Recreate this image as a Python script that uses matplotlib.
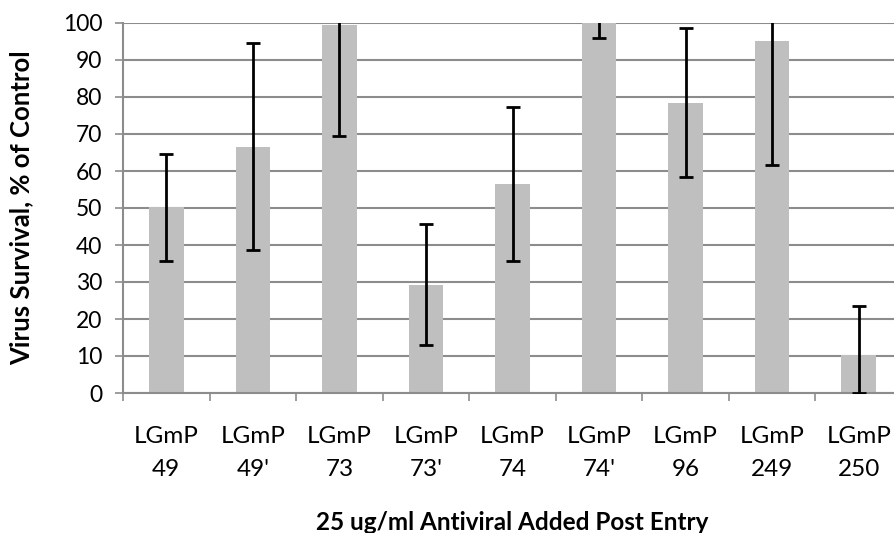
"""
Virus survival after antiviral added post entry (bar chart with error bars).
"""

import matplotlib
matplotlib.use('Agg')
import matplotlib.pyplot as plt
import numpy as np

categories = ["LGmP\n49", "LGmP\n49'", "LGmP\n73", "LGmP\n73'", "LGmP\n74",
              "LGmP\n74'", "LGmP\n96", "LGmP\n249", "LGmP\n250"]
survival = [50.2, 66.6, 99.5, 29.2, 56.5, 100.0, 78.4, 95.0, 10.2]
err_low = [14.5, 28.0, 30.1, 16.3, 20.8, 4.1, 19.9, 33.4, 10.2]
err_high = [14.4, 28.1, 30.1, 16.5, 20.9, 4.1, 20.2, 33.4, 13.4]

yticks = list(range(0, 101, 10))

plt.rcParams['font.family'] = ['Lato', 'DejaVu Sans']

fig = plt.figure(figsize=(8.94, 5.33), dpi=100)
ax = fig.add_axes([123 / 894, 140 / 533, 779 / 894, 370 / 533])

x = np.arange(len(categories))
ax.bar(x, survival, width=0.4, color='#bfbfbf', zorder=2)
ax.errorbar(x, survival, yerr=[err_low, err_high], fmt='none', ecolor='black',
            elinewidth=2, capsize=5, capthick=2, zorder=3)

ax.set_xlim(-0.5, len(categories) - 0.5)
ax.set_ylim(0, 100)
ax.set_yticks(yticks)
ax.yaxis.grid(True, color='#8c8c8c', linewidth=1.5, zorder=0)
ax.set_axisbelow(True)

# ticks on category boundaries, labels at centres
ax.set_xticks(np.arange(len(categories) + 1) - 0.5)
ax.set_xticklabels([])
ax.set_xticks(x, minor=True)
ax.set_xticklabels(categories, minor=True, fontsize=17.5, linespacing=1.7)
ax.tick_params(axis='x', which='minor', length=0, pad=24)
ax.tick_params(axis='x', which='major', length=6, width=1.2, color='#8c8c8c',
               direction='out')
ax.tick_params(axis='y', length=6, width=1.2, color='#8c8c8c', labelsize=16.5,
               pad=9)

for side in ['top', 'right']:
    ax.spines[side].set_visible(False)
for side in ['left', 'bottom']:
    ax.spines[side].set_color('#8c8c8c')
    ax.spines[side].set_linewidth(1.5)

ax.set_ylabel('Virus Survival, % of Control', fontsize=18.5, fontweight='bold')
ax.yaxis.set_label_coords(-0.115, 0.5)
ax.set_xlabel('25 ug/ml Antiviral Added Post Entry', fontsize=17.5,
              fontweight='bold')
ax.xaxis.set_label_coords((512 - 123) / 779, -0.32)

plt.savefig('out.png', dpi=100)
plt.close(fig)
